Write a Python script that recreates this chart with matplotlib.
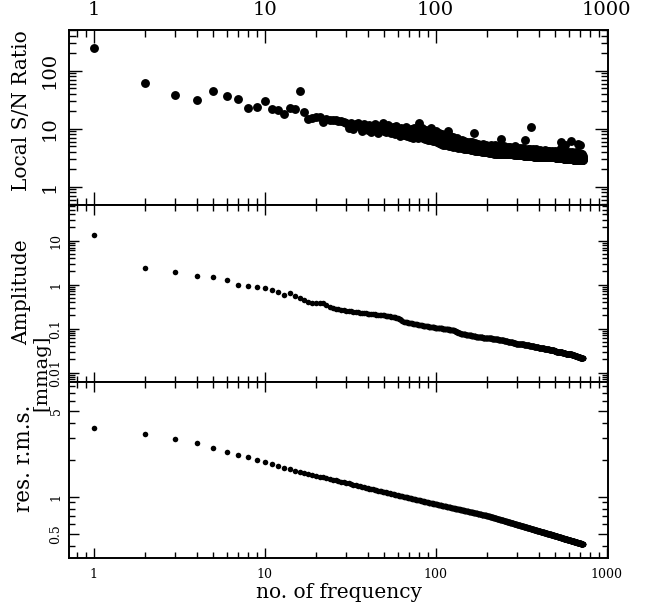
import numpy as np
import matplotlib
matplotlib.use('Agg')
import matplotlib.pyplot as plt
from matplotlib import ticker
from matplotlib.transforms import blended_transform_factory

plt.rcParams['font.family'] = 'DejaVu Serif'

# local S/N ratio of each extracted frequency
sn_ratio = [
    243, 62, 38, 31, 45, 37, 32, 23, 24, 30,
    22, 21, 17.7, 23, 22, 44, 19.3, 15.0, 15.4, 15.8,
    16.2, 13.2, 14.6, 14.0, 14.3, 14.2, 13.6, 13.8, 13.1, 12.8,
    10.2, 12.6, 9.8, 11.9, 12.4, 10.5, 9.1, 12.0, 10.8, 9.4,
    11.5, 8.9, 10.1, 12.3, 9.6, 8.6, 11.0, 9.9, 12.8, 9.2,
    8.7, 10.6, 11.8, 9.0, 8.4, 10.9, 9.5, 8.2, 11.2, 9.8,
    8.0, 7.6, 10.3, 9.1, 7.9, 8.8, 10.7, 7.4, 9.5, 8.3,
    7.2, 9.9, 8.6, 7.0, 10.1, 8.1, 7.5, 9.3, 6.9, 12.6,
    8.4, 7.1, 10.2, 6.8, 9.0, 7.7, 6.6, 9.6, 8.0, 6.5,
    8.8, 7.3, 6.4, 10.4, 7.9, 6.2, 8.5, 7.0, 6.1, 9.1,
    7.6, 5.9, 6.8, 8.3, 5.6, 6.3, 7.2, 5.4, 8.0, 6.0,
    5.3, 7.0, 6.5, 5.2, 7.8, 5.8, 6.6, 9.0, 5.1, 6.9,
    5.5, 7.4, 5.0, 6.2, 5.7, 7.1, 4.9, 6.0, 5.4, 6.7,
    4.8, 5.9, 7.0, 5.2, 4.7, 6.4, 5.6, 4.8, 6.1, 5.0,
    4.6, 6.5, 5.3, 4.7, 5.8, 4.5, 6.2, 5.1, 4.6, 5.5,
    4.5, 5.9, 4.9, 4.4, 5.6, 5.0, 4.4, 6.0, 4.7, 4.3,
    5.3, 4.6, 5.8, 4.3, 5.0, 4.5, 5.5, 8.5, 4.2, 4.9,
    5.6, 4.3, 4.8, 5.2, 4.2, 4.6, 5.4, 4.1, 4.9, 5.0,
    4.2, 5.3, 4.5, 4.1, 5.1, 4.4, 4.0, 4.8, 5.4, 4.1,
    4.6, 4.0, 5.0, 4.3, 4.0, 4.7, 5.2, 3.9, 4.4, 4.8,
    3.9, 4.5, 5.1, 4.0, 4.3, 3.8, 4.9, 4.2, 3.9, 5.3,
    4.1, 3.8, 4.6, 4.4, 3.8, 5.0, 4.0, 3.8, 4.7, 4.2,
    3.7, 4.4, 5.2, 3.9, 4.1, 3.7, 4.8, 4.3, 3.7, 4.0,
    4.6, 3.8, 4.2, 5.0, 3.7, 4.4, 3.9, 3.7, 4.5, 6.7,
    4.0, 3.7, 4.3, 4.9, 3.8, 4.1, 3.6, 4.6, 4.0, 3.7,
    4.4, 5.1, 3.8, 3.6, 4.2, 4.7, 3.7, 4.0, 3.6, 4.5,
    3.9, 4.3, 3.6, 4.8, 4.0, 3.7, 4.1, 3.6, 4.6, 3.8,
    4.2, 3.6, 4.4, 4.9, 3.7, 3.9, 3.6, 4.3, 4.0, 3.6,
    4.5, 3.8, 3.6, 4.1, 4.7, 3.7, 3.9, 3.5, 4.4, 4.0,
    3.6, 4.2, 5.0, 3.7, 3.5, 4.3, 3.8, 3.6, 4.1, 4.6,
    3.5, 3.9, 4.4, 3.6, 3.8, 3.5, 4.2, 4.0, 3.5, 4.6,
    3.7, 3.5, 4.1, 3.8, 3.5, 4.5, 3.9, 3.6, 3.5, 4.3,
    3.7, 4.0, 3.5, 4.7, 3.6, 3.8, 3.4, 4.2, 3.9, 3.5,
    4.4, 3.6, 3.4, 4.0, 6.3, 3.7, 3.5, 4.3, 3.8, 3.4,
    4.1, 3.6, 3.9, 3.4, 4.5, 3.7, 3.4, 4.0, 3.5, 3.8,
    4.3, 3.4, 3.6, 4.1, 3.5, 3.9, 3.4, 4.4, 3.7, 10.7,
    3.5, 4.0, 3.4, 3.8, 4.2, 3.4, 3.6, 3.9, 3.4, 4.5,
    3.7, 3.4, 4.1, 3.5, 3.8, 3.3, 4.3, 3.6, 3.4, 3.9,
    3.5, 4.2, 3.3, 3.7, 4.0, 3.4, 3.6, 3.3, 4.4, 3.5,
    3.8, 3.3, 4.1, 3.6, 3.4, 3.9, 3.3, 3.7, 4.2, 3.4,
    3.3, 3.8, 3.5, 4.1, 3.3, 3.6, 3.9, 3.3, 3.5, 4.3,
    3.4, 3.7, 3.3, 4.0, 3.5, 3.3, 3.8, 3.6, 3.3, 4.2,
    3.5, 3.3, 3.9, 3.4, 3.7, 3.3, 4.1, 3.5, 3.3, 3.8,
    3.6, 3.3, 4.0, 3.4, 3.3, 3.7, 3.5, 4.3, 3.3, 3.6,
    3.9, 3.3, 3.5, 3.2, 4.0, 3.4, 3.7, 3.2, 3.5, 3.8,
    3.3, 4.1, 3.4, 3.2, 3.6, 3.9, 3.3, 3.5, 3.2, 3.7,
    4.2, 3.3, 3.6, 3.2, 3.4, 3.8, 3.2, 3.5, 4.0, 3.3,
    3.6, 3.2, 3.9, 3.4, 3.2, 3.7, 3.5, 3.2, 4.1, 3.3,
    3.6, 3.2, 3.4, 3.8, 3.2, 3.5, 4.0, 3.3, 3.2, 3.7,
    3.4, 3.2, 3.9, 3.5, 3.2, 3.6, 3.3, 4.2, 3.2, 3.5,
    3.8, 3.2, 3.4, 3.1, 3.7, 3.5, 3.2, 4.0, 3.3, 3.1,
    3.6, 3.4, 3.1, 3.9, 3.2, 3.5, 3.1, 3.7, 3.3, 3.1,
    4.1, 3.4, 3.1, 3.6, 3.2, 3.8, 3.1, 3.4, 3.5, 3.1,
    3.7, 3.2, 3.1, 3.9, 3.3, 3.6, 3.1, 3.4, 4.6, 6.0,
    3.2, 3.5, 3.1, 3.8, 3.3, 3.1, 3.6, 3.2, 4.0, 3.1,
    3.5, 3.1, 3.3, 3.7, 3.1, 3.4, 3.2, 3.9, 3.1, 5.2,
    3.3, 3.6, 3.1, 3.4, 3.0, 3.8, 3.2, 3.5, 3.0, 3.3,
    3.7, 3.1, 3.0, 5.3, 3.4, 3.2, 3.6, 3.0, 3.3, 3.9,
    3.1, 3.4, 3.0, 3.6, 3.2, 3.0, 3.5, 3.8, 3.1, 3.3,
    3.0, 3.7, 3.2, 3.4, 3.0, 3.6, 3.1, 3.3, 4.0, 3.0,
    3.4, 3.2, 3.0, 3.7, 3.1, 3.3, 3.0, 3.5, 3.2, 3.8,
    3.0, 3.3, 3.1, 3.6, 3.0, 3.4, 3.2, 3.0, 3.7, 6.1,
    3.1, 3.3, 3.0, 3.5, 3.2, 3.9, 3.0, 3.4, 3.1, 3.6,
    3.0, 3.2, 3.5, 3.0, 3.3, 3.1, 3.7, 3.0, 3.4, 3.2,
    2.9, 3.6, 3.1, 3.3, 3.0, 3.8, 3.2, 2.9, 3.4, 3.1,
    3.5, 2.9, 3.2, 3.0, 3.7, 3.1, 2.9, 3.3, 3.6, 3.0,
    3.2, 2.9, 3.4, 3.1, 4.0, 2.9, 3.3, 3.0, 3.5, 3.2,
    2.9, 3.6, 3.1, 3.3, 2.9, 3.4, 3.0, 3.8, 3.2, 5.5,
    2.9, 3.3, 3.5, 3.0, 3.2, 2.9, 3.6, 3.1, 2.9, 3.4,
    3.2, 3.0, 3.7, 2.9, 3.3, 3.1, 3.5, 2.9, 3.2, 5.3,
    3.0, 3.4, 2.9, 3.6, 3.1, 2.9, 3.3, 3.0, 3.5, 2.9,
    3.2, 3.7, 2.9, 3.1, 3.4, 2.9, 3.0, 3.3, 2.9, 3.6,
    3.1, 2.9, 3.2, 3.0, 3.4, 2.9, 3.1, 3.0,
]

# amplitude [mmag]
amplitude = [
    13.5, 2.35, 1.97, 1.57, 1.52, 1.27, 0.96, 0.93, 0.88, 0.82,
    0.76, 0.68, 0.58, 0.66, 0.54, 0.49, 0.46, 0.40, 0.39, 0.385,
    0.38, 0.375, 0.34, 0.310, 0.298, 0.287, 0.277, 0.268, 0.262, 0.257,
    0.252, 0.247, 0.243, 0.240, 0.236, 0.233, 0.229, 0.226, 0.222, 0.219,
    0.217, 0.215, 0.213, 0.211, 0.209, 0.207, 0.205, 0.204, 0.202, 0.200,
    0.198, 0.195, 0.193, 0.190, 0.188, 0.186, 0.183, 0.181, 0.178, 0.176,
    0.170, 0.163, 0.156, 0.149, 0.143, 0.142, 0.140, 0.139, 0.137, 0.136,
    0.134, 0.133, 0.132, 0.130, 0.129, 0.127, 0.126, 0.125, 0.123, 0.122,
    0.121, 0.120, 0.119, 0.118, 0.117, 0.117, 0.116, 0.115, 0.114, 0.113,
    0.112, 0.111, 0.110, 0.109, 0.108, 0.108, 0.107, 0.107, 0.106, 0.106,
    0.105, 0.105, 0.104, 0.104, 0.103, 0.102, 0.102, 0.101, 0.101, 0.100,
    0.100, 0.099, 0.099, 0.098, 0.098, 0.097, 0.097, 0.096, 0.096, 0.095,
    0.095, 0.094, 0.094, 0.093, 0.093, 0.092, 0.092, 0.091, 0.090, 0.089,
    0.087, 0.086, 0.085, 0.084, 0.082, 0.081, 0.080, 0.079, 0.078, 0.077,
    0.076, 0.076, 0.076, 0.075, 0.075, 0.075, 0.074, 0.074, 0.074, 0.073,
    0.073, 0.073, 0.072, 0.072, 0.072, 0.071, 0.071, 0.071, 0.070, 0.070,
    0.070, 0.069, 0.069, 0.069, 0.068, 0.068, 0.068, 0.068, 0.067, 0.067,
    0.067, 0.066, 0.066, 0.066, 0.066, 0.065, 0.065, 0.065, 0.065, 0.065,
    0.064, 0.064, 0.064, 0.064, 0.064, 0.064, 0.064, 0.064, 0.063, 0.063,
    0.063, 0.063, 0.063, 0.063, 0.062, 0.062, 0.062, 0.062, 0.062, 0.062,
    0.061, 0.061, 0.061, 0.061, 0.061, 0.061, 0.061, 0.060, 0.060, 0.060,
    0.060, 0.060, 0.060, 0.059, 0.059, 0.059, 0.059, 0.059, 0.059, 0.058,
    0.058, 0.058, 0.058, 0.058, 0.058, 0.057, 0.057, 0.057, 0.057, 0.057,
    0.057, 0.057, 0.056, 0.056, 0.056, 0.056, 0.056, 0.056, 0.055, 0.055,
    0.055, 0.055, 0.055, 0.055, 0.054, 0.054, 0.054, 0.054, 0.054, 0.054,
    0.053, 0.053, 0.053, 0.053, 0.053, 0.053, 0.053, 0.052, 0.052, 0.052,
    0.052, 0.052, 0.052, 0.051, 0.051, 0.051, 0.051, 0.051, 0.051, 0.050,
    0.050, 0.050, 0.050, 0.050, 0.050, 0.049, 0.049, 0.049, 0.049, 0.049,
    0.049, 0.049, 0.048, 0.048, 0.048, 0.048, 0.048, 0.048, 0.047, 0.047,
    0.047, 0.047, 0.047, 0.047, 0.046, 0.046, 0.046, 0.046, 0.046, 0.046,
    0.046, 0.046, 0.046, 0.046, 0.046, 0.045, 0.045, 0.045, 0.045, 0.045,
    0.045, 0.045, 0.045, 0.045, 0.045, 0.045, 0.045, 0.044, 0.044, 0.044,
    0.044, 0.044, 0.044, 0.044, 0.044, 0.044, 0.044, 0.044, 0.043, 0.043,
    0.043, 0.043, 0.043, 0.043, 0.043, 0.043, 0.043, 0.043, 0.043, 0.043,
    0.042, 0.042, 0.042, 0.042, 0.042, 0.042, 0.042, 0.042, 0.042, 0.042,
    0.042, 0.042, 0.041, 0.041, 0.041, 0.041, 0.041, 0.041, 0.041, 0.041,
    0.041, 0.041, 0.041, 0.041, 0.040, 0.040, 0.040, 0.040, 0.040, 0.040,
    0.040, 0.040, 0.040, 0.040, 0.040, 0.039, 0.039, 0.039, 0.039, 0.039,
    0.039, 0.039, 0.039, 0.039, 0.039, 0.039, 0.039, 0.038, 0.038, 0.038,
    0.038, 0.038, 0.038, 0.038, 0.038, 0.038, 0.038, 0.038, 0.038, 0.037,
    0.037, 0.037, 0.037, 0.037, 0.037, 0.037, 0.037, 0.037, 0.037, 0.037,
    0.037, 0.037, 0.037, 0.037, 0.036, 0.036, 0.036, 0.036, 0.036, 0.036,
    0.036, 0.036, 0.036, 0.036, 0.036, 0.036, 0.036, 0.036, 0.036, 0.036,
    0.035, 0.035, 0.035, 0.035, 0.035, 0.035, 0.035, 0.035, 0.035, 0.035,
    0.035, 0.035, 0.035, 0.035, 0.035, 0.034, 0.034, 0.034, 0.034, 0.034,
    0.034, 0.034, 0.034, 0.034, 0.034, 0.034, 0.034, 0.034, 0.034, 0.034,
    0.034, 0.033, 0.033, 0.033, 0.033, 0.033, 0.033, 0.033, 0.033, 0.033,
    0.033, 0.033, 0.033, 0.033, 0.033, 0.033, 0.032, 0.032, 0.032, 0.032,
    0.032, 0.032, 0.032, 0.032, 0.032, 0.032, 0.032, 0.032, 0.032, 0.032,
    0.032, 0.032, 0.031, 0.031, 0.031, 0.031, 0.031, 0.031, 0.031, 0.031,
    0.031, 0.031, 0.031, 0.031, 0.031, 0.031, 0.031, 0.030, 0.030, 0.030,
    0.030, 0.030, 0.030, 0.030, 0.030, 0.030, 0.030, 0.030, 0.030, 0.030,
    0.030, 0.030, 0.030, 0.030, 0.029, 0.029, 0.029, 0.029, 0.029, 0.029,
    0.029, 0.029, 0.029, 0.029, 0.029, 0.029, 0.029, 0.029, 0.029, 0.029,
    0.029, 0.029, 0.029, 0.029, 0.029, 0.029, 0.029, 0.029, 0.029, 0.029,
    0.028, 0.028, 0.028, 0.028, 0.028, 0.028, 0.028, 0.028, 0.028, 0.028,
    0.028, 0.028, 0.028, 0.028, 0.028, 0.028, 0.028, 0.028, 0.028, 0.028,
    0.028, 0.028, 0.028, 0.028, 0.028, 0.027, 0.027, 0.027, 0.027, 0.027,
    0.027, 0.027, 0.027, 0.027, 0.027, 0.027, 0.027, 0.027, 0.027, 0.027,
    0.027, 0.027, 0.027, 0.027, 0.027, 0.027, 0.027, 0.027, 0.027, 0.027,
    0.026, 0.026, 0.026, 0.026, 0.026, 0.026, 0.026, 0.026, 0.026, 0.026,
    0.026, 0.026, 0.026, 0.026, 0.026, 0.026, 0.026, 0.026, 0.026, 0.026,
    0.026, 0.026, 0.026, 0.026, 0.026, 0.025, 0.025, 0.025, 0.025, 0.025,
    0.025, 0.025, 0.025, 0.025, 0.025, 0.025, 0.025, 0.025, 0.025, 0.025,
    0.025, 0.025, 0.025, 0.025, 0.025, 0.025, 0.025, 0.025, 0.025, 0.025,
    0.024, 0.024, 0.024, 0.024, 0.024, 0.024, 0.024, 0.024, 0.024, 0.024,
    0.024, 0.024, 0.024, 0.024, 0.024, 0.024, 0.024, 0.024, 0.024, 0.024,
    0.024, 0.024, 0.024, 0.024, 0.024, 0.023, 0.023, 0.023, 0.023, 0.023,
    0.023, 0.023, 0.023, 0.023, 0.023, 0.023, 0.023, 0.023, 0.023, 0.023,
    0.023, 0.023, 0.023, 0.023, 0.023, 0.023, 0.023, 0.023, 0.023, 0.023,
    0.022, 0.022, 0.022, 0.022, 0.022, 0.022, 0.022, 0.022, 0.022, 0.022,
    0.022, 0.022, 0.022, 0.022, 0.022, 0.022, 0.022, 0.022, 0.022, 0.022,
    0.022, 0.022, 0.022, 0.022, 0.022, 0.021, 0.021, 0.021,
]

# residual r.m.s. [mmag] after prewhitening n frequencies
res_rms = [
    3.65, 3.26, 2.93, 2.73, 2.50, 2.33, 2.21, 2.12, 2.01, 1.93,
    1.85, 1.79, 1.73, 1.67, 1.63, 1.59, 1.56, 1.53, 1.50, 1.48,
    1.46, 1.44, 1.42, 1.40, 1.381, 1.362, 1.345, 1.328, 1.312, 1.297,
    1.283, 1.269, 1.256, 1.243, 1.231, 1.219, 1.208, 1.197, 1.186, 1.176,
    1.166, 1.157, 1.147, 1.138, 1.130, 1.121, 1.113, 1.105, 1.097, 1.090,
    1.083, 1.077, 1.070, 1.064, 1.057, 1.051, 1.045, 1.039, 1.033, 1.027,
    1.022, 1.017, 1.011, 1.006, 1.001, 0.996, 0.991, 0.987, 0.982, 0.977,
    0.973, 0.968, 0.964, 0.959, 0.955, 0.951, 0.947, 0.944, 0.940, 0.936,
    0.932, 0.928, 0.925, 0.921, 0.917, 0.914, 0.910, 0.907, 0.903, 0.900,
    0.897, 0.894, 0.891, 0.888, 0.885, 0.882, 0.879, 0.876, 0.873, 0.870,
    0.867, 0.865, 0.862, 0.860, 0.857, 0.854, 0.852, 0.849, 0.847, 0.844,
    0.842, 0.840, 0.838, 0.835, 0.833, 0.831, 0.829, 0.827, 0.824, 0.822,
    0.820, 0.818, 0.816, 0.814, 0.812, 0.809, 0.807, 0.805, 0.803, 0.801,
    0.799, 0.797, 0.796, 0.794, 0.792, 0.790, 0.788, 0.787, 0.785, 0.783,
    0.781, 0.780, 0.778, 0.776, 0.775, 0.773, 0.771, 0.769, 0.768, 0.766,
    0.765, 0.763, 0.762, 0.760, 0.759, 0.757, 0.756, 0.754, 0.753, 0.751,
    0.750, 0.748, 0.747, 0.745, 0.744, 0.742, 0.741, 0.739, 0.738, 0.736,
    0.735, 0.734, 0.732, 0.731, 0.730, 0.729, 0.727, 0.726, 0.725, 0.723,
    0.722, 0.721, 0.720, 0.718, 0.717, 0.716, 0.715, 0.714, 0.712, 0.711,
    0.710, 0.709, 0.708, 0.707, 0.706, 0.704, 0.703, 0.702, 0.701, 0.700,
    0.699, 0.697, 0.696, 0.695, 0.693, 0.692, 0.691, 0.689, 0.688, 0.687,
    0.685, 0.684, 0.682, 0.681, 0.680, 0.678, 0.677, 0.676, 0.674, 0.673,
    0.672, 0.671, 0.669, 0.668, 0.667, 0.666, 0.665, 0.663, 0.662, 0.661,
    0.660, 0.659, 0.657, 0.656, 0.655, 0.654, 0.653, 0.651, 0.650, 0.649,
    0.648, 0.647, 0.646, 0.645, 0.644, 0.643, 0.642, 0.641, 0.640, 0.639,
    0.637, 0.636, 0.635, 0.634, 0.633, 0.632, 0.631, 0.630, 0.629, 0.628,
    0.627, 0.626, 0.625, 0.624, 0.623, 0.622, 0.621, 0.620, 0.619, 0.618,
    0.618, 0.617, 0.616, 0.615, 0.614, 0.613, 0.612, 0.611, 0.610, 0.609,
    0.608, 0.607, 0.606, 0.606, 0.605, 0.604, 0.603, 0.602, 0.601, 0.600,
    0.600, 0.599, 0.598, 0.597, 0.596, 0.595, 0.595, 0.594, 0.593, 0.592,
    0.591, 0.591, 0.590, 0.589, 0.588, 0.588, 0.587, 0.586, 0.585, 0.585,
    0.584, 0.583, 0.582, 0.582, 0.581, 0.580, 0.579, 0.579, 0.578, 0.577,
    0.576, 0.576, 0.575, 0.574, 0.573, 0.573, 0.572, 0.571, 0.571, 0.570,
    0.569, 0.569, 0.568, 0.567, 0.567, 0.566, 0.565, 0.565, 0.564, 0.563,
    0.562, 0.562, 0.561, 0.560, 0.560, 0.559, 0.558, 0.557, 0.557, 0.556,
    0.555, 0.555, 0.554, 0.553, 0.553, 0.552, 0.551, 0.551, 0.550, 0.549,
    0.548, 0.548, 0.547, 0.547, 0.546, 0.546, 0.545, 0.544, 0.544, 0.543,
    0.542, 0.542, 0.541, 0.541, 0.540, 0.539, 0.539, 0.538, 0.538, 0.537,
    0.536, 0.536, 0.535, 0.535, 0.534, 0.534, 0.533, 0.533, 0.532, 0.531,
    0.531, 0.530, 0.530, 0.529, 0.529, 0.528, 0.528, 0.527, 0.527, 0.526,
    0.525, 0.525, 0.524, 0.524, 0.523, 0.523, 0.522, 0.522, 0.521, 0.521,
    0.520, 0.520, 0.519, 0.519, 0.518, 0.518, 0.517, 0.517, 0.516, 0.516,
    0.515, 0.515, 0.514, 0.514, 0.513, 0.513, 0.512, 0.512, 0.511, 0.511,
    0.510, 0.510, 0.509, 0.509, 0.508, 0.508, 0.507, 0.507, 0.506, 0.506,
    0.506, 0.505, 0.505, 0.504, 0.504, 0.503, 0.503, 0.502, 0.502, 0.501,
    0.501, 0.501, 0.500, 0.500, 0.499, 0.499, 0.498, 0.498, 0.497, 0.497,
    0.497, 0.496, 0.496, 0.495, 0.495, 0.494, 0.494, 0.493, 0.493, 0.492,
    0.492, 0.492, 0.491, 0.491, 0.490, 0.490, 0.489, 0.489, 0.488, 0.488,
    0.488, 0.487, 0.487, 0.486, 0.486, 0.486, 0.485, 0.485, 0.484, 0.484,
    0.484, 0.483, 0.483, 0.482, 0.482, 0.482, 0.481, 0.481, 0.480, 0.480,
    0.480, 0.479, 0.479, 0.478, 0.478, 0.478, 0.477, 0.477, 0.476, 0.476,
    0.476, 0.475, 0.475, 0.474, 0.474, 0.474, 0.473, 0.473, 0.472, 0.472,
    0.472, 0.471, 0.471, 0.470, 0.470, 0.470, 0.469, 0.469, 0.469, 0.468,
    0.468, 0.467, 0.467, 0.467, 0.466, 0.466, 0.466, 0.465, 0.465, 0.464,
    0.464, 0.464, 0.463, 0.463, 0.463, 0.462, 0.462, 0.461, 0.461, 0.461,
    0.460, 0.460, 0.460, 0.459, 0.459, 0.458, 0.458, 0.458, 0.457, 0.457,
    0.457, 0.456, 0.456, 0.456, 0.455, 0.455, 0.455, 0.454, 0.454, 0.454,
    0.453, 0.453, 0.453, 0.452, 0.452, 0.452, 0.451, 0.451, 0.451, 0.450,
    0.450, 0.450, 0.449, 0.449, 0.449, 0.448, 0.448, 0.448, 0.447, 0.447,
    0.447, 0.446, 0.446, 0.446, 0.445, 0.445, 0.445, 0.445, 0.444, 0.444,
    0.444, 0.443, 0.443, 0.443, 0.443, 0.442, 0.442, 0.442, 0.441, 0.441,
    0.441, 0.441, 0.440, 0.440, 0.440, 0.440, 0.439, 0.439, 0.439, 0.438,
    0.438, 0.438, 0.438, 0.437, 0.437, 0.437, 0.437, 0.436, 0.436, 0.436,
    0.435, 0.435, 0.435, 0.435, 0.434, 0.434, 0.434, 0.434, 0.433, 0.433,
    0.433, 0.432, 0.432, 0.432, 0.432, 0.431, 0.431, 0.431, 0.430, 0.430,
    0.430, 0.430, 0.429, 0.429, 0.429, 0.429, 0.428, 0.428, 0.428, 0.427,
    0.427, 0.427, 0.427, 0.426, 0.426, 0.426, 0.426, 0.425, 0.425, 0.425,
    0.424, 0.424, 0.424, 0.424, 0.423, 0.423, 0.423, 0.423, 0.422, 0.422,
    0.422, 0.421, 0.421, 0.421, 0.421, 0.420, 0.420, 0.420, 0.420, 0.419,
    0.419, 0.419, 0.419, 0.418, 0.418, 0.418, 0.418, 0.417, 0.417, 0.417,
    0.417, 0.416, 0.416, 0.416, 0.416, 0.415, 0.415, 0.415, 0.415, 0.414,
    0.414, 0.414, 0.414, 0.413, 0.413, 0.413, 0.413, 0.412, 0.412, 0.412,
    0.412, 0.411, 0.411, 0.411, 0.411, 0.410, 0.410, 0.410,
]

freq_ticks = [1, 10, 100, 1000]
sn_ticks = [1, 10, 100]
amp_ticks = [0.01, 0.1, 1, 10]
rms_ticks = [0.5, 1, 5]
rms_minor = [0.4, 0.6, 0.7, 0.8, 0.9, 2, 3, 4, 6, 7, 8]

fig = plt.figure(figsize=(6.61, 6.10), dpi=100)
ax_sn = fig.add_axes([0.1044, 0.6639, 0.8147, 0.2869])
ax_amp = fig.add_axes([0.1044, 0.3743, 0.8147, 0.2896])
ax_rms = fig.add_axes([0.1044, 0.0857, 0.8147, 0.2886])

fmt = ticker.FuncFormatter(lambda v, pos: '%g' % v)
subs = np.arange(2, 10)


def style(ax, ylim, yticks, yminor, size, big, small, gap):
    ax.set_xscale('log')
    ax.set_yscale('log')
    ax.set_xlim(0.717, 1013)
    ax.set_ylim(*ylim)
    ax.xaxis.set_major_locator(ticker.FixedLocator(freq_ticks))
    ax.xaxis.set_minor_locator(ticker.LogLocator(base=10, subs=subs, numticks=30))
    ax.yaxis.set_major_locator(ticker.FixedLocator(yticks))
    if yminor is None:
        ax.yaxis.set_minor_locator(ticker.LogLocator(base=10, subs=subs, numticks=30))
    else:
        ax.yaxis.set_minor_locator(ticker.FixedLocator(yminor))
    ax.xaxis.set_major_formatter(fmt)
    ax.xaxis.set_minor_formatter(ticker.NullFormatter())
    ax.yaxis.set_major_formatter(ticker.NullFormatter())
    ax.yaxis.set_minor_formatter(ticker.NullFormatter())
    ax.tick_params(which='both', direction='in', top=True, right=True,
                   width=1.0, labelsize=size)
    ax.tick_params(which='major', length=big)
    ax.tick_params(which='minor', length=small)
    ax.tick_params(axis='x', labelbottom=False)
    for sp in ax.spines.values():
        sp.set_linewidth(1.4)
    # y tick labels written vertically, as in the original
    trans = blended_transform_factory(ax.transAxes, ax.transData)
    for v in yticks:
        ax.text(-gap, v, '%g' % v, transform=trans, rotation=90,
                ha='right', va='center', fontsize=size)


style(ax_sn, (0.483, 504), sn_ticks, None, 14, 9.4, 5.0, 0.019)
style(ax_amp, (0.00624, 64.7), amp_ticks, None, 9, 7.2, 4.0, 0.012)
style(ax_rms, (0.318, 8.68), rms_ticks, rms_minor, 9, 7.0, 4.0, 0.012)

ax_sn.tick_params(axis='x', labeltop=True, pad=8)
ax_rms.tick_params(axis='x', labelbottom=True, pad=7.5)

ax_sn.plot(np.arange(1, len(sn_ratio) + 1), sn_ratio, 'o', color='black',
           ms=6.4, mew=0)
ax_amp.plot(np.arange(1, len(amplitude) + 1), amplitude, 'o', color='black',
            ms=4.0, mew=0)
ax_rms.plot(np.arange(1, len(res_rms) + 1), res_rms, 'o', color='black',
            ms=4.0, mew=0)

fig.text(22 / 661, 1 - 111 / 610, 'Local S/N Ratio', rotation=90,
         ha='center', va='center', fontsize=14.5)
fig.text(22 / 661, 1 - 292 / 610, 'Amplitude', rotation=90,
         ha='center', va='center', fontsize=14.5)
fig.text(41 / 661, 1 - 373 / 610, '[mmag]', rotation=90,
         ha='center', va='center', fontsize=14)
fig.text(24 / 661, 1 - 458 / 610, 'res. r.m.s.', rotation=90,
         ha='center', va='center', fontsize=15.5)
fig.text(339 / 661, 1 - 592 / 610, 'no. of frequency',
         ha='center', va='center', fontsize=14.5)

fig.savefig('out.png', dpi=100)
